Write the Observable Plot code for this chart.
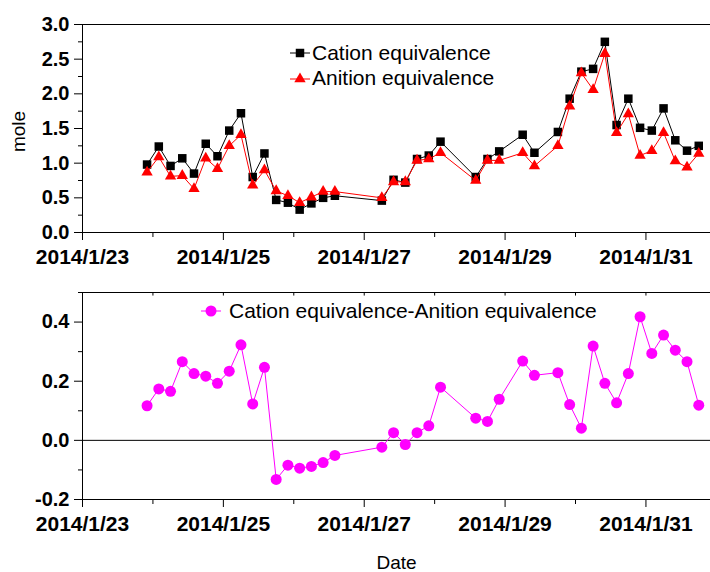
<!DOCTYPE html>
<html>
<head>
<meta charset="utf-8">
<script src="https://cdn.jsdelivr.net/npm/d3@7"></script>
<script src="https://cdn.jsdelivr.net/npm/@observablehq/plot@0.6"></script>
<style>
  html, body { margin: 0; padding: 0; background: #fff; overflow: hidden; }
  svg { display: block; }
</style>
</head>
<body>
<div id="chart"></div>
<script>
const times = [
  "2014-01-23T22:00Z","2014-01-24T02:00Z","2014-01-24T06:00Z","2014-01-24T10:00Z","2014-01-24T14:00Z","2014-01-24T18:00Z","2014-01-24T22:00Z",
  "2014-01-25T02:00Z","2014-01-25T06:00Z","2014-01-25T10:00Z","2014-01-25T14:00Z","2014-01-25T18:00Z","2014-01-25T22:00Z",
  "2014-01-26T02:00Z","2014-01-26T06:00Z","2014-01-26T10:00Z","2014-01-26T14:00Z",
  "2014-01-27T06:00Z","2014-01-27T10:00Z","2014-01-27T14:00Z","2014-01-27T18:00Z","2014-01-27T22:00Z",
  "2014-01-28T02:00Z","2014-01-28T14:00Z","2014-01-28T18:00Z","2014-01-28T22:00Z",
  "2014-01-29T06:00Z","2014-01-29T10:00Z","2014-01-29T18:00Z","2014-01-29T22:00Z",
  "2014-01-30T02:00Z","2014-01-30T06:00Z","2014-01-30T10:00Z","2014-01-30T14:00Z","2014-01-30T18:00Z","2014-01-30T22:00Z",
  "2014-01-31T02:00Z","2014-01-31T06:00Z","2014-01-31T10:00Z","2014-01-31T14:00Z","2014-01-31T18:00Z"
];
const cation = [0.98,1.24,0.96,1.07,0.85,1.28,1.10,1.47,1.72,0.80,1.14,0.47,0.43,0.33,0.42,0.50,0.53,
  0.46,0.76,0.72,1.06,1.11,1.31,0.80,1.06,1.17,1.41,1.15,1.45,1.93,2.32,2.36,2.75,1.55,1.93,1.51,1.47,1.79,1.33,1.18,1.25];
const anion = [0.87,1.09,0.81,0.82,0.63,1.07,0.92,1.25,1.41,0.68,0.90,0.60,0.53,0.43,0.51,0.59,0.59,
  0.50,0.73,0.73,1.04,1.06,1.15,0.75,1.04,1.04,1.15,0.96,1.25,1.82,2.30,2.06,2.58,1.44,1.71,1.11,1.18,1.44,1.03,0.94,1.14];
const diff = [0.117,0.174,0.166,0.266,0.226,0.217,0.193,0.234,0.323,0.123,0.247,-0.132,-0.084,-0.094,-0.088,-0.075,-0.051,
  -0.023,0.026,-0.014,0.026,0.049,0.180,0.075,0.064,0.139,0.268,0.220,0.229,0.121,0.041,0.319,0.193,0.127,0.226,0.418,0.294,0.356,0.305,0.266,0.119];

const xMajor = ["2014-01-23","2014-01-25","2014-01-27","2014-01-29","2014-01-31"];
const xMinor = ["2014-01-24","2014-01-26","2014-01-28","2014-01-30"];
const yTopMajor = [0, 0.5, 1.0, 1.5, 2.0, 2.5, 3.0];
const yTopMinor = [0.25, 0.75, 1.25, 1.75, 2.25, 2.75];
const yBotMajor = [-0.2, 0, 0.2, 0.4];
const yBotMinor = [-0.1, 0.1, 0.3, 0.5];
const seriesNames = ["Cation equivalence", "Anition equivalence", "Cation equivalence-Anition equivalence"];

const parse = s => new Date(s.length <= 10 ? s + "T00:00Z" : s);
const rows = times.map((t, i) => ({date: parse(t), cation: cation[i], anion: anion[i], diff: diff[i]}));
const majorDates = xMajor.map(parse);
const minorDates = xMinor.map(parse);
const allDays = [...majorDates, ...minorDates];
const xDomain = [parse("2014-01-23"), parse("2014-01-31T22:00Z")];
const font = "'Liberation Sans', Arial, sans-serif";
const fmtDate = d => `${d.getUTCFullYear()}/${d.getUTCMonth() + 1}/${d.getUTCDate()}`;
const fmt1 = d => d.toFixed(1);

function xAxes() {
  return [
    Plot.axisX({ticks: majorDates, tickSize: 8, tickPadding: 9, tickFormat: fmtDate, fontSize: 21, fontWeight: "bold", label: null, fill: "#000"}),
    Plot.axisX({ticks: minorDates, tickSize: 5, tickFormat: () => "", label: null})
  ];
}

const topChart = Plot.plot({
  width: 710, height: 270,
  marginLeft: 82, marginRight: 0, marginTop: 24, marginBottom: 38,
  style: {fontFamily: font, background: "#fff", color: "#000", overflow: "visible"},
  x: {type: "utc", domain: xDomain},
  y: {domain: [0, 3]},
  marks: [
    Plot.ruleY([0, 3], {stroke: "#000", strokeWidth: 1}),
    Plot.ruleX([xDomain[0]], {stroke: "#000", strokeWidth: 1}),
    Plot.axisY({ticks: yTopMajor, tickSize: 8, tickPadding: 5, tickFormat: fmt1, fontSize: 20, fontWeight: "bold", label: null}),
    Plot.axisY({ticks: yTopMinor, tickSize: 4, tickFormat: () => "", label: null}),
    ...xAxes(),
    Plot.text(["mole"], {frameAnchor: "left", rotate: -90, dx: -64, dy: 3, fontSize: 19, textAnchor: "middle", lineAnchor: "middle"}),
    Plot.line(rows, {x: "date", y: "cation", stroke: "#000", strokeWidth: 1}),
    Plot.dot(rows, {x: "date", y: "cation", symbol: "square", r: 4.8, fill: "#000", stroke: "none"}),
    Plot.line(rows, {x: "date", y: "anion", stroke: "#ff0000", strokeWidth: 1}),
    Plot.dot(rows, {x: "date", y: "anion", symbol: "triangle", r: 4.2, fill: "#ff0000", stroke: "none"})
  ]
});

const bottomChart = Plot.plot({
  width: 710, height: 302,
  marginLeft: 82, marginRight: 0, marginTop: 22, marginBottom: 73,
  style: {fontFamily: font, background: "#fff", color: "#000", overflow: "visible"},
  x: {type: "utc", domain: xDomain},
  y: {domain: [-0.2, 0.5]},
  marks: [
    Plot.ruleY([-0.2, 0.5], {stroke: "#000", strokeWidth: 1}),
    Plot.ruleX([xDomain[0]], {stroke: "#000", strokeWidth: 1}),
    Plot.ruleX(allDays, {x: d => d, y1: 0.5, y2: 0.488, stroke: "#000"}),
    Plot.ruleY([0], {stroke: "#000", strokeWidth: 1}),
    Plot.axisY({ticks: yBotMajor, tickSize: 8, tickPadding: 5, tickFormat: fmt1, fontSize: 20, fontWeight: "bold", label: null}),
    Plot.axisY({ticks: yBotMinor, tickSize: 4, tickFormat: () => "", label: null}),
    ...xAxes(),
    Plot.text(["Date"], {frameAnchor: "bottom", dy: 63, fontSize: 19, textAnchor: "middle", lineAnchor: "middle"}),
    Plot.line(rows, {x: "date", y: "diff", stroke: "#ff00ff", strokeWidth: 1}),
    Plot.dot(rows, {x: "date", y: "diff", r: 5.5, fill: "#ff00ff", stroke: "none"})
  ]
});

// legends
function legendRow(svg, cx, cy, color, symbol, size, label, textX, textY) {
  const g = d3.select(svg).append("g").attr("font-family", font).attr("font-size", 21)
    .attr("text-anchor", "start");
  g.append("line").attr("x1", cx - 10).attr("x2", cx + 10).attr("y1", cy).attr("y2", cy)
    .attr("stroke", color).attr("stroke-width", 1);
  g.append("path").attr("transform", `translate(${cx},${cy})`)
    .attr("d", d3.symbol(symbol, size)()).attr("fill", color);
  g.append("text").attr("x", textX).attr("y", textY).attr("fill", "#000")
    .attr("text-anchor", "start").text(label);
}
legendRow(topChart, 300, 53, "#000", d3.symbolSquare, 72, seriesNames[0], 312, 60);
legendRow(topChart, 300, 79, "#ff0000", d3.symbolTriangle, 56, seriesNames[1], 312, 85);
legendRow(bottomChart, 211, 41, "#ff00ff", d3.symbolCircle, 95, seriesNames[2], 229, 48);

document.getElementById("chart").append(topChart, bottomChart);
</script>
</body>
</html>
